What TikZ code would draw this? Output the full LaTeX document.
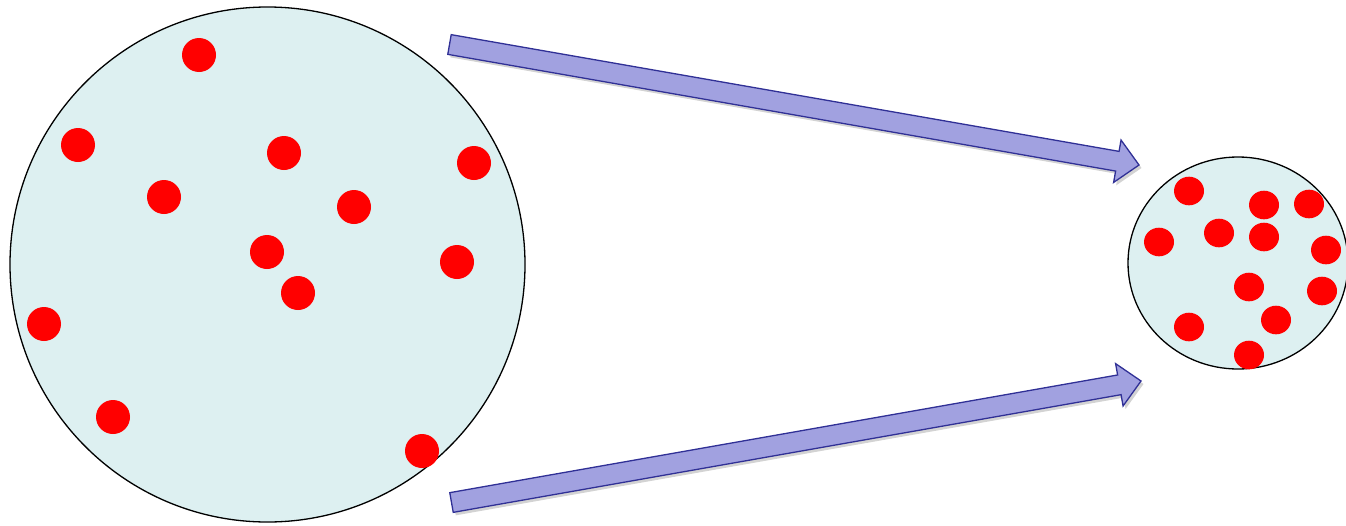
\documentclass[tikz,border=0pt]{standalone}
\usetikzlibrary{calc,shadows}
\definecolor{cellfill}{RGB}{221,240,241}
\definecolor{arrowfill}{RGB}{161,161,224}
\definecolor{arrowedge}{RGB}{48,48,150}
\definecolor{dotred}{RGB}{255,0,0}
\tikzset{
  region/.style={draw=black, line width=1.3pt, fill=cellfill},
  bigdot/.style={fill=dotred, draw=none},
  fatarrow/.style={fill=arrowfill, draw=arrowedge, line width=1.3pt, line join=miter,
    drop shadow={opacity=0.35, shadow xshift=2.5pt, shadow yshift=-3pt}},
}
\newcommand{\fatarrowpath}[2]{%
  \path[fatarrow]
    ($(#1)!10pt!90:(#2)$) --
    ($($(#2)!22pt!(#1)$)!10pt!90:(#2)$) --
    ($($(#2)!22pt!(#1)$)!21.5pt!90:(#2)$) --
    (#2) --
    ($($(#2)!22pt!(#1)$)!21.5pt!-90:(#2)$) --
    ($($(#2)!22pt!(#1)$)!10pt!-90:(#2)$) --
    ($(#1)!10pt!-90:(#2)$) -- cycle;}
\begin{document}
\begin{tikzpicture}[x=1pt,y=-1pt]
\useasboundingbox (0,0) rectangle (1346,525);
% large region
\path[region] (267.5,264.5) ellipse [x radius=257.5, y radius=257.5];
\coordinate (big) at (267.5,264.5);
\foreach \x/\y in {199/55, 78/145, 284/153, 474/163, 164/197, 354/207, 267/252, 457/262, 298/293, 44/324, 113/417, 422/451}
  \path[bigdot] (\x,\y) circle [radius=17];
% small region
\path[region] (1238,263) ellipse [x radius=110, y radius=106];
\coordinate (small) at (1238,263);
\foreach \x/\y in {1189/191, 1264/205, 1309/204, 1159/242, 1219/233, 1264/237, 1326/250, 1249/287, 1322/291, 1189/327, 1276/320, 1249/355}
  \path[bigdot] (\x,\y) ellipse [x radius=15, y radius=14.3];
% arrows
\coordinate (t1) at (449.5,44.5);
\coordinate (h1) at (1139,165);
\coordinate (t2) at (451.5,502.5);
\coordinate (h2) at (1141,381);
\fatarrowpath{t1}{h1}
\fatarrowpath{t2}{h2}
\end{tikzpicture}
\end{document}
